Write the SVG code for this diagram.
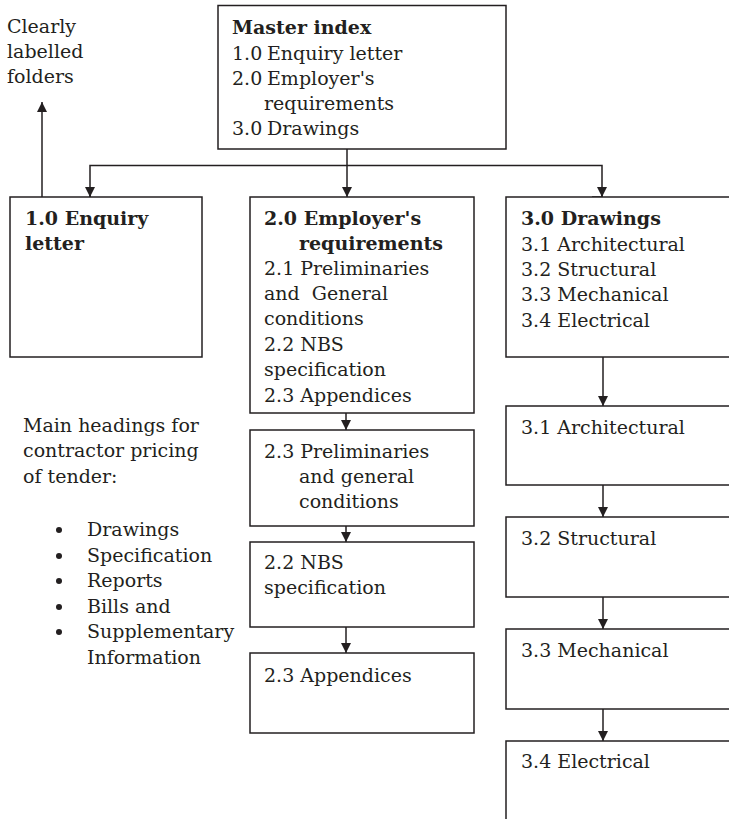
<svg xmlns="http://www.w3.org/2000/svg" width="729" height="819" viewBox="0 0 729 819">
<style>
.box{fill:#fff;stroke:#231f20;stroke-width:1.5}
.t{font-family:"DejaVu Serif","Liberation Serif",serif;font-size:19px;fill:#231f20}
.b{font-weight:bold}
.ln{fill:none;stroke:#231f20;stroke-width:1.5}
</style>
<defs>
<marker id="ah" viewBox="0 0 10 10" refX="10" refY="5" markerWidth="10" markerHeight="10" markerUnits="userSpaceOnUse" orient="auto">
<path d="M0,0 L10,5 L0,10 z" fill="#231f20"/>
</marker>
</defs>
<rect width="729" height="819" fill="#fff"/>

<g id="connectors">
<path class="ln" d="M347,149 V197" marker-end="url(#ah)"/>
<path class="ln" d="M90,197 V165.5 H602 V197" />
<path class="ln" d="M90,187 V197" marker-end="url(#ah)"/>
<path class="ln" d="M592,197 H602 V197" />
<path class="ln" d="M602,187 V197" marker-end="url(#ah)"/>
<path class="ln" d="M42,197 V102" marker-end="url(#ah)"/>
<path class="ln" d="M346,413 V430" marker-end="url(#ah)"/>
<path class="ln" d="M346,526 V542" marker-end="url(#ah)"/>
<path class="ln" d="M346,627 V653" marker-end="url(#ah)"/>
<path class="ln" d="M603,357 V406" marker-end="url(#ah)"/>
<path class="ln" d="M603,485 V517" marker-end="url(#ah)"/>
<path class="ln" d="M603,597 V629" marker-end="url(#ah)"/>
<path class="ln" d="M603,709 V741" marker-end="url(#ah)"/>
</g>

<g id="master">
<rect class="box" x="218" y="5.5" width="288" height="143.5"/>
<text class="t b" x="232" y="34">Master index</text>
<text class="t" y="60"><tspan x="232">1.0</tspan><tspan x="267">Enquiry letter</tspan></text>
<text class="t" y="85"><tspan x="232">2.0</tspan><tspan x="267">Employer's</tspan></text>
<text class="t" x="264" y="110">requirements</text>
<text class="t" y="135"><tspan x="232">3.0</tspan><tspan x="267">Drawings</tspan></text>
</g>

<g id="folders-label">
<text class="t" x="7" y="33">Clearly</text>
<text class="t" x="7" y="58">labelled</text>
<text class="t" x="7" y="83">folders</text>
</g>

<g id="enquiry">
<rect class="box" x="10" y="197" width="192" height="160"/>
<text class="t b" x="25" y="225">1.0 Enquiry</text>
<text class="t b" x="25" y="250">letter</text>
</g>

<g id="employer">
<rect class="box" x="250" y="197" width="224" height="216"/>
<text class="t b" x="264" y="225">2.0 Employer's</text>
<text class="t b" x="299" y="250">requirements</text>
<text class="t" x="264" y="275">2.1 Preliminaries</text>
<text class="t" x="264" y="300" xml:space="preserve">and  General</text>
<text class="t" x="264" y="325">conditions</text>
<text class="t" x="264" y="351">2.2 NBS</text>
<text class="t" x="264" y="376">specification</text>
<text class="t" x="264" y="402">2.3 Appendices</text>
</g>

<g id="prelim">
<rect class="box" x="250" y="430" width="224" height="96"/>
<text class="t" x="264" y="458">2.3 Preliminaries</text>
<text class="t" x="299" y="483">and general</text>
<text class="t" x="299" y="508">conditions</text>
</g>

<g id="nbs">
<rect class="box" x="250" y="542" width="224" height="85"/>
<text class="t" x="264" y="569">2.2 NBS</text>
<text class="t" x="264" y="594">specification</text>
</g>

<g id="appendices">
<rect class="box" x="250" y="653" width="224" height="80"/>
<text class="t" x="264" y="682">2.3 Appendices</text>
</g>

<g id="drawings">
<rect class="box" x="506" y="197" width="240" height="160"/>
<text class="t b" x="521" y="225">3.0 Drawings</text>
<text class="t" x="521" y="251">3.1 Architectural</text>
<text class="t" x="521" y="276">3.2 Structural</text>
<text class="t" x="521" y="301">3.3 Mechanical</text>
<text class="t" x="521" y="327">3.4 Electrical</text>
</g>

<g id="architectural">
<rect class="box" x="506" y="406" width="240" height="79"/>
<text class="t" x="521" y="434">3.1 Architectural</text>
</g>

<g id="structural">
<rect class="box" x="506" y="517" width="240" height="80"/>
<text class="t" x="521" y="545">3.2 Structural</text>
</g>

<g id="mechanical">
<rect class="box" x="506" y="629" width="240" height="80"/>
<text class="t" x="521" y="657">3.3 Mechanical</text>
</g>

<g id="electrical">
<rect class="box" x="506" y="741" width="240" height="100"/>
<text class="t" x="521" y="768">3.4 Electrical</text>
</g>

<g id="headings">
<text class="t" x="23" y="432">Main headings for</text>
<text class="t" x="23" y="457">contractor pricing</text>
<text class="t" x="23" y="483">of tender:</text>
<circle cx="59" cy="530" r="3" fill="#231f20"/>
<circle cx="59" cy="556" r="3" fill="#231f20"/>
<circle cx="59" cy="581" r="3" fill="#231f20"/>
<circle cx="59" cy="607" r="3" fill="#231f20"/>
<circle cx="59" cy="632" r="3" fill="#231f20"/>
<text class="t" x="87" y="536">Drawings</text>
<text class="t" x="87" y="561.5">Specification</text>
<text class="t" x="87" y="587">Reports</text>
<text class="t" x="87" y="612.5">Bills and</text>
<text class="t" x="87" y="638">Supplementary</text>
<text class="t" x="87" y="663.5">Information</text>
</g>
</svg>
